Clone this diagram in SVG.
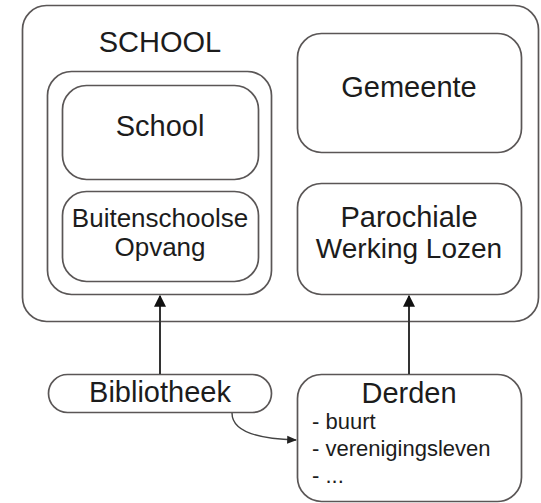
<svg xmlns="http://www.w3.org/2000/svg" width="541" height="503" viewBox="0 0 541 503">
<style>
.box{fill:#fff;stroke:#5a5656;stroke-width:1.7}
.t{font-family:"Liberation Sans",Arial,sans-serif;fill:#1c1c1c;text-anchor:middle}
.big{font-size:29px}
.mid{font-size:26px}
.sm{font-size:22px;text-anchor:start}
.conn{fill:none;stroke:#333;stroke-width:2}
.thin{fill:none;stroke:#444;stroke-width:1.4}
</style>
<defs>
<marker id="ah" viewBox="0 0 10 10" refX="9" refY="5" markerWidth="6" markerHeight="6" orient="auto" markerUnits="strokeWidth">
<path d="M0,0 L10,5 L0,10 z" fill="#111"/>
</marker>
<marker id="ah2" viewBox="0 0 10 10" refX="9" refY="5" markerWidth="7" markerHeight="7" orient="auto" markerUnits="strokeWidth">
<path d="M0,1 L10,5 L0,9 z" fill="#222"/>
</marker>
</defs>
<rect width="541" height="503" fill="#fff"/>
<g id="outer">
<rect class="box" x="22.5" y="5.5" width="516" height="316" rx="24"/>
<text class="t big" x="160" y="52">SCHOOL</text>
</g>
<g id="container">
<rect class="box" x="47.5" y="71.5" width="224" height="223" rx="24"/>
</g>
<g id="school">
<rect class="box" x="62.5" y="85.5" width="196" height="94" rx="24"/>
<text class="t big" x="160" y="136">School</text>
</g>
<g id="buitenschoolse">
<rect class="box" x="62.5" y="191.5" width="196" height="90" rx="24"/>
<text class="t mid" x="160" y="227">Buitenschoolse</text>
<text class="t mid" x="160" y="256">Opvang</text>
</g>
<g id="gemeente">
<rect class="box" x="297.5" y="33.5" width="224" height="119" rx="24"/>
<text class="t big" x="409" y="97">Gemeente</text>
</g>
<g id="parochiale">
<rect class="box" x="297.5" y="183.5" width="224" height="111" rx="24"/>
<text class="t big" x="409" y="227">Parochiale</text>
<text class="t" x="409" y="258" style="font-size:28px">Werking Lozen</text>
</g>
<g id="bibliotheek">
<rect class="box" x="48.5" y="374.5" width="223" height="38" rx="19"/>
<text class="t big" x="160" y="402">Bibliotheek</text>
</g>
<g id="derden">
<rect class="box" x="297.5" y="374.5" width="224" height="127" rx="24"/>
<text class="t big" x="409" y="403">Derden</text>
<text class="t sm" x="312" y="429">- buurt</text>
<text class="t sm" x="312" y="456">- verenigingsleven</text>
<text class="t sm" x="312" y="483">- ...</text>
</g>
<g id="connectors">
<line class="conn" x1="160" y1="374" x2="160" y2="296" marker-end="url(#ah)"/>
<line class="conn" x1="409" y1="374" x2="409" y2="296" marker-end="url(#ah)"/>
<path class="thin" d="M232,413 C232,432 258,439 296,440" marker-end="url(#ah2)"/>
</g>
</svg>
